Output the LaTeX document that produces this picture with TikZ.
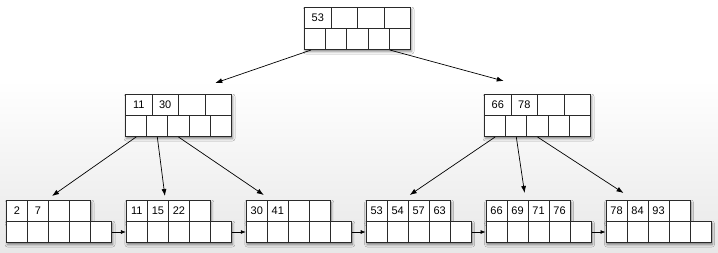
\documentclass[tikz,border=0pt]{standalone}
\usepackage{fontspec}
\setmainfont{Liberation Sans}
\usetikzlibrary{arrows.meta,calc,shadows.blur}
\definecolor{rand}{HTML}{2A2A2A}
\definecolor{boden}{HTML}{E8E8E8}
\tikzset{
  zelle/.style={draw=rand,fill=white,line width=1pt,inner sep=0pt,anchor=north west,
    minimum height=21pt,font=\fontsize{11}{13}\selectfont},
  schl/.style={zelle,minimum width=26.5pt},
  zeig/.style={zelle,minimum width=21.2pt},
  blatt/.style={zelle,minimum width=21pt},
  schatten/.style={fill=white,blur shadow={shadow xshift=1.5pt,shadow yshift=-2.5pt,
    shadow blur radius=2.5pt,shadow opacity=50}},
  kante/.style={-{Latex[length=7pt,width=5pt]},black,line width=0.7pt},
  weiter/.style={-{Latex[length=5pt,width=4pt]},black,line width=0.7pt},
}
% innerer Knoten: Name, x, y, Schluessel
\newcommand\innen[4]{%
  \path[schatten] (#2,#3) rectangle ++(106,42);
  \foreach \k [count=\i from 0] in {#4}
    \node[schl] (#1-t\i) at ({#2+26.5*\i},#3) {\k};
  \foreach \i in {0,...,4}
    \node[zeig] (#1-p\i) at ({#2+21.2*\i},#3+21) {};
}
% Blatt: Name, x, y, Schluessel
\newcommand\blattknoten[4]{%
  \path[schatten] (#2,#3) rectangle ++(84,21);
  \path[schatten] (#2,#3+21) rectangle ++(105,21);
  \foreach \k [count=\i from 0] in {#4}
    \node[blatt] (#1-t\i) at ({#2+21*\i},#3) {\k};
  \foreach \i in {0,...,4}
    \node[blatt] (#1-p\i) at ({#2+21*\i},#3+21) {};
}

\begin{document}
\begin{tikzpicture}[x=1pt,y=-1pt]
  \useasboundingbox (0,0) rectangle (718,252);
  \fill[white] (0,0) rectangle (718,80);
  \shade[top color=white,bottom color=boden] (0,80) rectangle (718,252);

  % Wurzel und innere Knoten
  \innen{wurzel}{304}{7}{53,{},{},{}}
  \innen{links}{125}{94}{11,30,{},{}}
  \innen{rechts}{484}{94}{66,78,{},{}}

  % Blaetter
  \blattknoten{b1}{6}{200}{2,7,{},{}}
  \blattknoten{b2}{125.9}{200}{11,15,22,{}}
  \blattknoten{b3}{245.8}{200}{30,41,{},{}}
  \blattknoten{b4}{365.7}{200}{53,54,57,63}
  \blattknoten{b5}{485.6}{200}{66,69,71,76}
  \blattknoten{b6}{605.5}{200}{78,84,93,{}}

  % Verweise
  \draw[kante] ($(wurzel-p0.south)+(-4,0)$) -- ($(links-t3.north)+(-3,-11)$);
  \draw[kante] (wurzel-p3.south east) -- ($(rechts-t0.north)+(6,-13)$);
  \draw[kante] (links-p0.south) -- ($(b1-t1.north east)+(3,-4)$);
  \draw[kante] (links-p1.south) -- ($(b2-t1.north east)+(-4,-4)$);
  \draw[kante] (links-p2.south) -- ($(b3-t0.north east)+(-4,-5)$);
  \draw[kante] (rechts-p0.south) -- ($(b4-t1.north east)+(1,-5)$);
  \draw[kante] (rechts-p1.south) -- ($(b5-t1.north east)+(-4,-7)$);
  \draw[kante] (rechts-p2.south) -- ($(b6-t0.north east)+(-4,-7)$);

  \foreach \a/\b in {b1/b2,b2/b3,b3/b4,b4/b5,b5/b6}
    \draw[weiter] (\a-p4.east) -- (\b-p0.west);
\end{tikzpicture}
\end{document}
